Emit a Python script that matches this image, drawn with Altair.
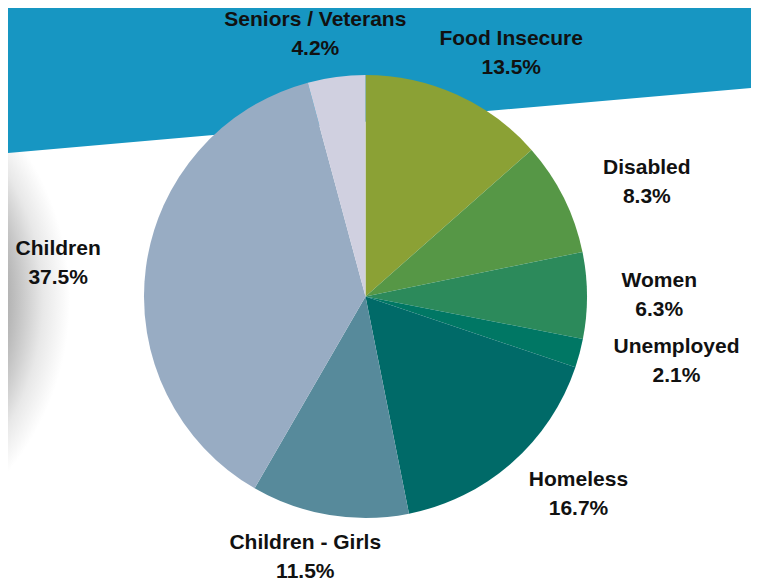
import altair as alt
import pandas as pd

# ---- data ----
categories = ["Food Insecure", "Disabled", "Women", "Unemployed", "Homeless",
              "Children - Girls", "Children", "Seniors / Veterans"]
shares = [13.5, 8.3, 6.3, 2.1, 16.7, 11.5, 37.5, 4.2]
colors = ["#8BA135", "#569746", "#2C8A5B", "#007764", "#006A68",
          "#578A9B", "#98ACC3", "#D0D0E0"]

# decorative blue band behind the top labels (left / right edge heights)
band_x = [0, 743]
band_y = [145, 80]

df = pd.DataFrame({"category": categories, "value": shares,
                   "order": list(range(len(categories)))})
band = pd.DataFrame({"bx": band_x, "by": band_y})

W, H = 743, 576
R = 221.5
CX, CY = 357.5, 288.5
LH = 29

shadow = alt.Chart(pd.DataFrame({"k": [0]})).mark_point(
    shape="circle", filled=True, size=540 ** 2, opacity=1, strokeOpacity=0,
    fill={"gradient": "radial",
          "stops": [{"offset": 0, "color": "#9a9a9a"},
                    {"offset": 0.74, "color": "#a8a8a8"},
                    {"offset": 0.82, "color": "#c8c8c8"},
                    {"offset": 0.90, "color": "#e8e8e8"},
                    {"offset": 1, "color": "#ffffff"}]}
).encode(x=alt.value(-208), y=alt.value(292))

band_chart = alt.Chart(band).mark_area(color="#1796C2", opacity=1).encode(
    x=alt.X("bx:Q", scale=None),
    y=alt.Y("by:Q", scale=None),
    y2=alt.value(0),
)

pie = alt.Chart(df).mark_arc(outerRadius=R, strokeWidth=0).encode(
    theta=alt.Theta("value:Q", stack=True),
    color=alt.Color("category:N", scale=alt.Scale(domain=categories, range=colors), legend=None),
    order=alt.Order("order:Q", sort="ascending"),
    x=alt.value(CX),
    y=alt.value(CY),
)

labels = alt.Chart(df).transform_window(
    cum="sum(value)", sort=[alt.SortField("order")], frame=[None, 0]
).transform_joinaggregate(
    total="sum(value)"
).transform_calculate(
    mid0="2*PI*(datum.cum - datum.value/2)/datum.total",
    mid="datum.mid0 + 0.06*sin(2*datum.mid0)",
    halfw="(length(datum.category)*10.5+12)/2",
    gap="16+24*abs(sin(datum.mid))",
    lx=f"{CX} + ({R} + datum.gap + datum.halfw)*sin(datum.mid)",
    ly=f"{CY} - ({R} + datum.gap + 24)*cos(datum.mid) - {LH / 2}",
    label="datum.category + '\\n' + format(datum.value, '.1f') + '%'",
).mark_text(
    font="Liberation Sans", fontWeight="bold", fontSize=21, lineHeight=LH,
    align="center", baseline="middle", color="#111111", lineBreak="\n",
).encode(
    x=alt.X("lx:Q", scale=None),
    y=alt.Y("ly:Q", scale=None),
    text="label:N",
)

chart = alt.layer(shadow, band_chart, pie, labels).properties(
    width=W, height=H,
    padding={"left": 0, "top": 0, "right": 0, "bottom": 0},
    autosize="none",
    background="#ffffff",
).configure_view(stroke=None)

chart.save("out.html", embed_options={"renderer": "svg", "actions": False})
